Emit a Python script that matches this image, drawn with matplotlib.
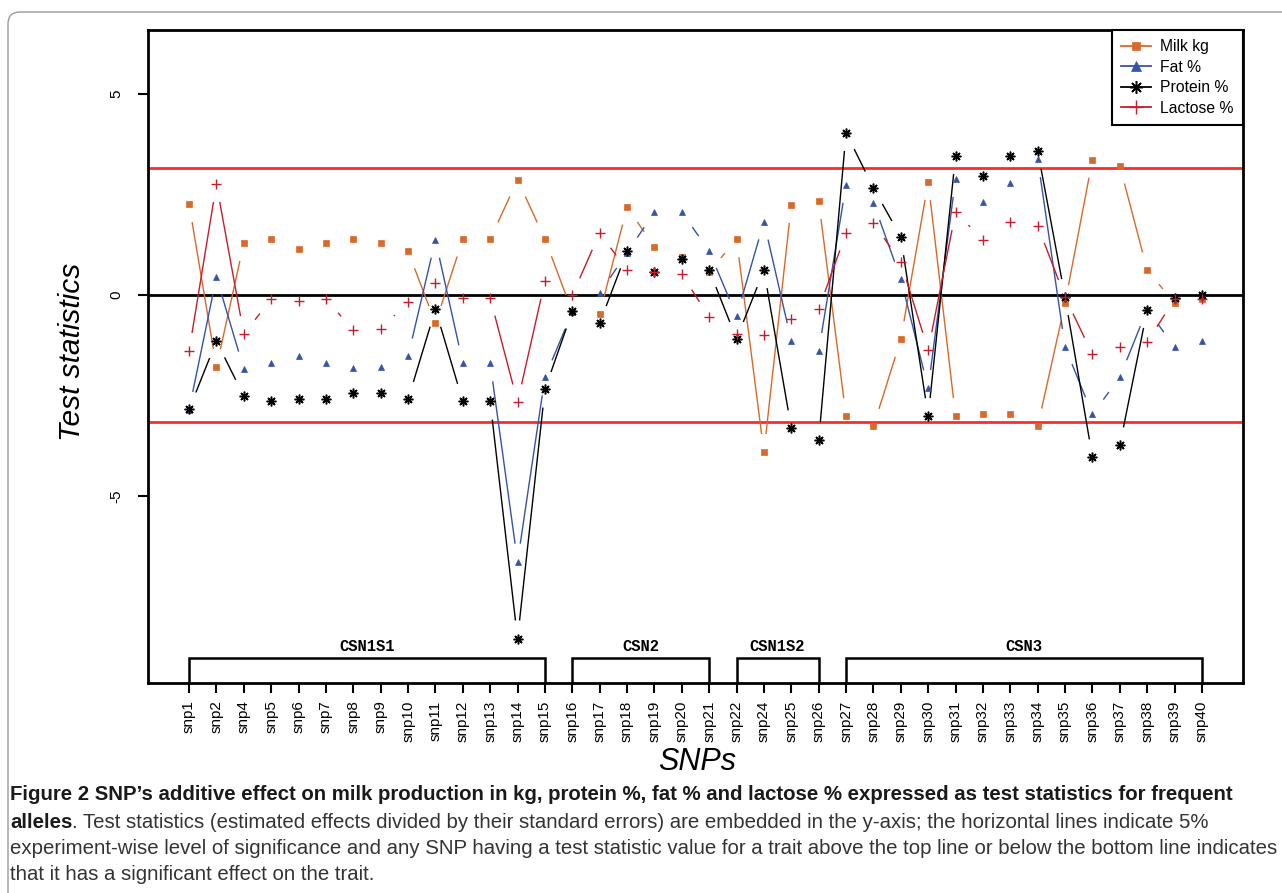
import numpy as np
import matplotlib
matplotlib.use('Agg')
import matplotlib.pyplot as plt
from matplotlib.lines import Line2D
from matplotlib.patches import FancyBboxPatch
from matplotlib.transforms import IdentityTransform

# SNP 名稱 (沒有 snp3 與 snp23)
snps = ['snp1', 'snp2', 'snp4', 'snp5', 'snp6', 'snp7', 'snp8', 'snp9', 'snp10', 'snp11',
        'snp12', 'snp13', 'snp14', 'snp15', 'snp16', 'snp17', 'snp18', 'snp19', 'snp20', 'snp21',
        'snp22', 'snp24', 'snp25', 'snp26', 'snp27', 'snp28', 'snp29', 'snp30', 'snp31', 'snp32',
        'snp33', 'snp34', 'snp35', 'snp36', 'snp37', 'snp38', 'snp39', 'snp40']

# 各性狀的 test statistics
milk = [2.26, -1.79, 1.29, 1.39, 1.14, 1.29, 1.39, 1.29, 1.09, -0.70,
        1.39, 1.39, 2.86, 1.39, -0.42, -0.47, 2.19, 1.19, 0.95, 0.57,
        1.39, -3.90, 2.24, 2.34, -3.01, -3.26, -1.10, 2.81, -3.01, -2.96,
        -2.94, -3.26, -0.20, 3.36, 3.21, 0.62, -0.20, -0.10]
fat = [-2.85, 0.45, -1.84, -1.69, -1.52, -1.69, -1.82, -1.78, -1.52, 1.37,
       -1.69, -1.69, -6.62, -2.04, -0.42, 0.05, 1.05, 2.06, 2.06, 1.09,
       -0.52, 1.82, -1.14, -1.39, 2.74, 2.29, 0.40, -2.31, 2.89, 2.31,
       2.79, 3.38, -1.29, -2.96, -2.04, -0.35, -1.29, -1.14]
protein = [-2.84, -1.14, -2.51, -2.64, -2.59, -2.59, -2.44, -2.44, -2.59, -0.35,
           -2.64, -2.64, -8.53, -2.34, -0.40, -0.70, 1.09, 0.57, 0.89, 0.62,
           -1.09, 0.62, -3.31, -3.61, 4.03, 2.66, 1.44, -3.01, 3.46, 2.96,
           3.46, 3.58, -0.05, -4.03, -3.73, -0.37, -0.07, 0.00]
lactose = [-1.39, 2.76, -0.97, -0.10, -0.15, -0.10, -0.87, -0.84, -0.18, 0.30,
           -0.07, -0.07, -2.66, 0.35, 0.00, 1.54, 0.62, 0.57, 0.52, -0.55,
           -0.97, -1.00, -0.60, -0.35, 1.54, 1.79, 0.82, -1.37, 2.06, 1.37,
           1.82, 1.72, -0.05, -1.47, -1.29, -1.17, -0.10, -0.10]

threshold = 3.16  # 5% 顯著水準線

# 基因區段
genes = ['CSN1S1', 'CSN2', 'CSN1S2', 'CSN3']
gene_start = ['snp1', 'snp16', 'snp22', 'snp27']
gene_end = ['snp15', 'snp21', 'snp26', 'snp40']

caption = [
    'Figure 2 SNP\u2019s additive effect on milk production in kg, protein %, fat % and lactose % expressed as test statistics for frequent',
    'alleles',
    '. Test statistics (estimated effects divided by their standard errors) are embedded in the y-axis; the horizontal lines indicate 5%',
    'experiment-wise level of significance and any SNP having a test statistic value for a trait above the top line or below the bottom line indicates',
    'that it has a significant effect on the trait.',
]

W, H = 1282, 893
plt.rcParams['font.family'] = ['Liberation Sans', 'DejaVu Sans']
fig = plt.figure(figsize=(W / 100, H / 100), dpi=100)
ax = fig.add_axes([148 / W, 1 - 683 / H, (1243 - 148) / W, (683 - 30) / H])

x = np.arange(len(snps))
ax.set_xlim(-1.5, len(snps) + 0.5)
ax.set_ylim(-9.63, 6.58)

ax.axhline(0, color='black', lw=2, zorder=1)
ax.axhline(threshold, color='#FF2A2A', lw=2, zorder=1)
ax.axhline(-threshold, color='#FF2A2A', lw=2, zorder=1)


def draw_b(xs, ys, color, marker, ms, mew, gap=19):
    # 模仿 R 的 type="b"：點與線之間留空隙
    ax.plot(xs, ys, ls='none', marker=marker, color=color, ms=ms, mew=mew, zorder=3)
    pts = ax.transData.transform(np.column_stack([xs, ys]))
    inv = ax.transData.inverted()
    for p0, p1 in zip(pts[:-1], pts[1:]):
        d = np.hypot(*(p1 - p0))
        if d <= 2 * gap:
            continue
        u = (p1 - p0) / d
        a = inv.transform(p0 + u * gap)
        b = inv.transform(p1 - u * gap)
        ax.plot([a[0], b[0]], [a[1], b[1]], color=color, lw=1, zorder=2)


series = [
    ('Milk kg', milk, '#D9692A', 's', 4.2, 0.5),
    ('Fat %', fat, '#3553A8', '^', 5.0, 0.5),
    ('Protein %', protein, 'black', (8, 2, 0), 7.0, 1.1),
    ('Lactose %', lactose, '#C41E2E', '+', 7.5, 1.0),
]
handles = []
for name, vals, col, mk, ms, mew in series:
    draw_b(x, np.array(vals), col, mk, ms, mew)
    handles.append(Line2D([0], [0], color=col, lw=1.3, marker=mk, ms=ms * 1.3, mew=mew))

leg = ax.legend(handles, [s[0] for s in series], loc='upper right', borderaxespad=0,
                fancybox=False, fontsize=11.3, handlelength=1.9, handletextpad=0.6,
                labelspacing=0.35, borderpad=0.6, framealpha=1)
leg.get_frame().set_edgecolor('black')
leg.get_frame().set_linewidth(1.5)

# 基因區段括號
for g, s, e in zip(genes, gene_start, gene_end):
    i0, i1 = snps.index(s), snps.index(e)
    ax.plot([i0, i0, i1, i1], [-9.63, -9.01, -9.01, -9.63], color='black', lw=1.8,
            solid_joinstyle='miter', clip_on=False, zorder=2)
    ax.text((i0 + i1) / 2, -8.73, g, ha='center', va='center', fontsize=11.2,
            family='Liberation Mono', fontweight='bold')

ax.set_xticks(x)
ax.set_xticklabels(snps, rotation=90, fontsize=11)
ax.set_yticks([-5, 0, 5])
ax.set_yticklabels(['-5', '0', '5'], rotation=90, va='center', fontsize=11)
ax.tick_params(direction='out', length=7, width=1.5)
ax.tick_params(axis='y', pad=11)
ax.tick_params(axis='x', pad=5.5)
for sp in ax.spines.values():
    sp.set_linewidth(2)

fig.text(72 / W, 1 - 352 / H, 'Test statistics', rotation=90, ha='center', va='center',
         fontsize=21.5, style='italic')
fig.text(697 / W, 1 - 770 / H, 'SNPs', ha='center', va='baseline', fontsize=22, style='italic')

# 外框
fig.add_artist(FancyBboxPatch((8, -60), W + 60, H - 12 + 60,
                              boxstyle='round,pad=0,rounding_size=12', transform=IdentityTransform(),
                              fill=False, edgecolor='#9a9a9a', lw=1))

# 圖說：字級依最長的行縮放，使其不超出圖寬
renderer = fig.canvas.get_renderer()
t1 = fig.text(10 / W, 1 - 795 / H, caption[0], fontsize=13, fontweight='bold',
              color='#1a1a1a', va='center')
t4 = fig.text(10 / W, 1 - 848 / H, caption[3], fontsize=13, color='#333333', va='center')
scale = min(1268 / t1.get_window_extent(renderer).width, 1262 / t4.get_window_extent(renderer).width)
size = 13 * scale
t1.set_fontsize(size)
t4.set_fontsize(size)
t2 = fig.text(10 / W, 1 - 822 / H, caption[1], fontsize=size, fontweight='bold',
              color='#1a1a1a', va='center')
w2 = t2.get_window_extent(renderer).width
fig.text((10 + w2) / W, 1 - 822 / H, caption[2], fontsize=size, color='#333333', va='center')
fig.text(10 / W, 1 - 874 / H, caption[4], fontsize=size, color='#333333', va='center')

fig.savefig('out.png', dpi=100)
